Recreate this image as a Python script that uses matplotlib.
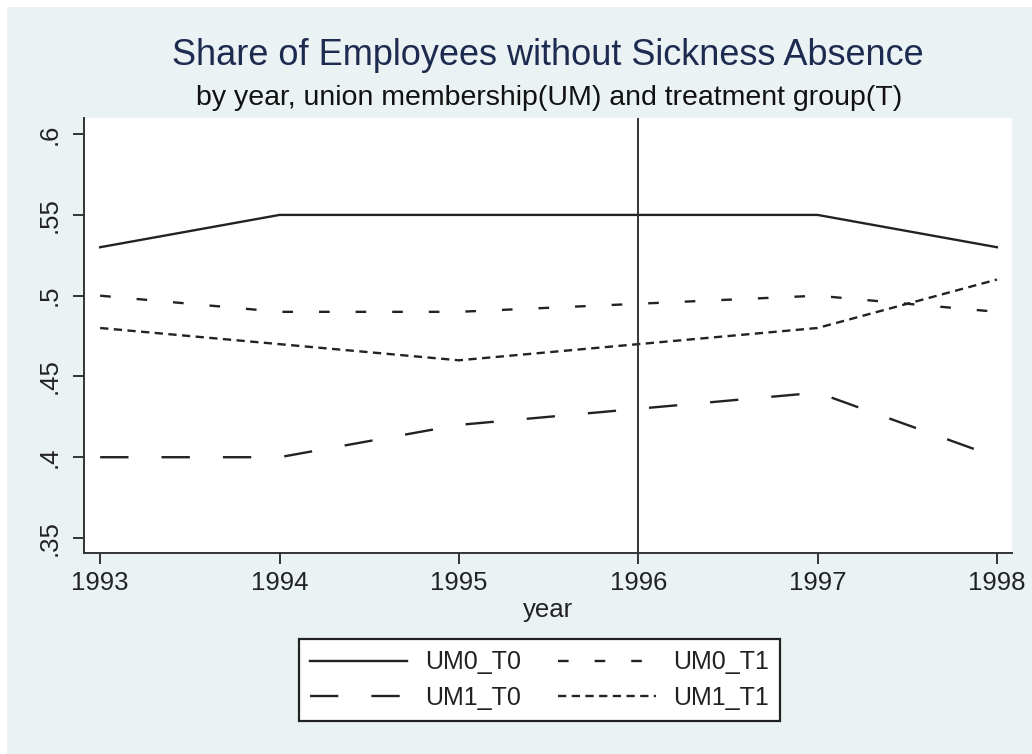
import matplotlib
matplotlib.use("Agg")
import matplotlib.pyplot as plt
from matplotlib.ticker import FuncFormatter

# data
years = [1993, 1994, 1995, 1996, 1997, 1998]
um0_t0 = [0.53, 0.55, 0.55, 0.55, 0.55, 0.53]
um0_t1 = [0.50, 0.49, 0.49, 0.495, 0.50, 0.49]
um1_t0 = [0.40, 0.40, 0.42, 0.43, 0.44, 0.40]
um1_t1 = [0.48, 0.47, 0.46, 0.47, 0.48, 0.51]
y_ticks = [0.35, 0.40, 0.45, 0.50, 0.55, 0.60]
reform_year = 1996

plt.rcParams['font.family'] = ['Liberation Sans', 'DejaVu Sans']

bg = "#EAF2F3"
ink = "#222222"

fig = plt.figure(figsize=(10.32, 7.54), dpi=100, facecolor="white")
# bluish graph region with a thin white margin on top/left
fig.patches.append(plt.Rectangle((7/1032, 0), 1 - 7/1032, 1 - 7/754,
                                 transform=fig.transFigure, facecolor=bg,
                                 edgecolor="none", zorder=-10))

ax = fig.add_axes([84/1032, 1 - 553/754, (1012 - 84)/1032, (553 - 118)/754])
ax.set_facecolor("white")

lw = 1.7
ax.plot(years, um0_t0, color=ink, lw=lw, label="UM0_T0")
ax.plot(years, um0_t1, color=ink, lw=lw, dashes=(4.5, 11), label="UM0_T1")
ax.plot(years, um1_t0, color=ink, lw=lw, dashes=(12, 14), label="UM1_T0")
ax.plot(years, um1_t1, color=ink, lw=lw, dashes=(3.5, 2.3), label="UM1_T1")
ax.axvline(reform_year, color="#333333", lw=1.4)

ax.set_xlim(1992.91, 1998.084)
ax.set_ylim(0.3407, 0.61)
ax.set_xticks(years)
ax.set_yticks(y_ticks)
ax.yaxis.set_major_formatter(FuncFormatter(lambda v, p: f"{v:g}".lstrip("0")))

for s in ["top", "right"]:
    ax.spines[s].set_visible(False)
for s in ["left", "bottom"]:
    ax.spines[s].set_color("#333333")
    ax.spines[s].set_linewidth(1.4)

ax.tick_params(axis="x", length=8, width=1.4, color="#333333", labelsize=18.5,
               labelcolor=ink, pad=5)
ax.tick_params(axis="y", length=8, width=1.4, color="#333333", labelsize=18.5,
               labelcolor=ink, pad=8)
for t in ax.get_yticklabels():
    t.set_rotation(90)
    t.set_va("center")

ax.set_xlabel("year", fontsize=18.5, color=ink, labelpad=2)

fig.text(548/1032, 1 - 65/754, "Share of Employees without Sickness Absence",
         ha="center", va="baseline", fontsize=26, color="#1E2B50")
fig.text(549/1032, 1 - 105/754, "by year, union membership(UM) and treatment group(T)",
         ha="center", va="baseline", fontsize=20.5, color="#111111")

h = ax.get_legend_handles_labels()
# order like the reference: row1 UM0_T0, UM0_T1 ; row2 UM1_T0, UM1_T1
handles = [h[0][0], h[0][2], h[0][1], h[0][3]]
labels = [h[1][0], h[1][2], h[1][1], h[1][3]]
leg = fig.legend(handles, labels, ncol=2, loc="upper center",
                 bbox_to_anchor=(539.5/1032, 1 - 639/754), fontsize=18,
                 frameon=True, fancybox=False, edgecolor="#222222",
                 facecolor="white", framealpha=1, handlelength=3.9,
                 handletextpad=0.7, columnspacing=1.5, labelspacing=0.45,
                 borderpad=0.45, borderaxespad=0)
leg.get_frame().set_linewidth(1.6)
for t in leg.get_texts():
    t.set_color(ink)

fig.savefig("out.png", dpi=100, facecolor=fig.get_facecolor())
